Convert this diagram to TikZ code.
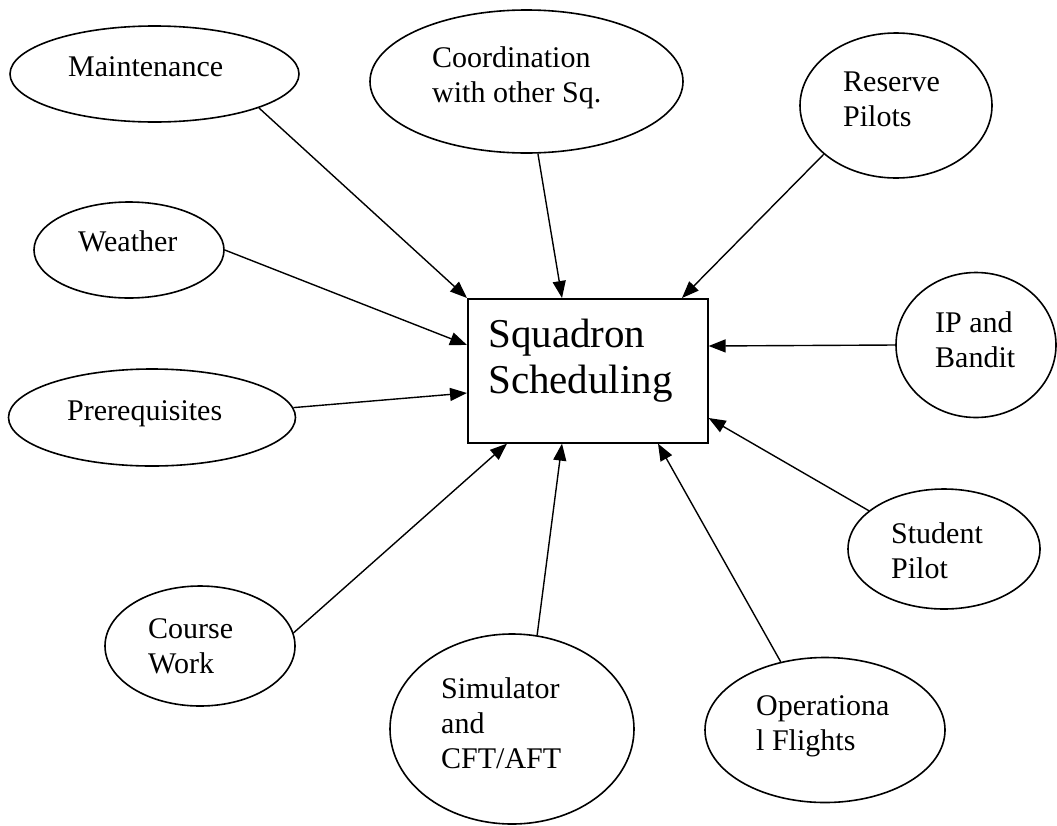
\documentclass[tikz,border=0pt]{standalone}
\usepackage{fontspec}
\setmainfont{Liberation Serif}
\usetikzlibrary{shapes.geometric,arrows.meta,calc}
\tikzset{
  ell/.style={ellipse, draw, line width=1.6pt, inner sep=0pt},
  lbl/.style={anchor=base west, inner sep=0pt, font=\fontsize{30}{35}\selectfont},
  mainbox/.style={draw, line width=1.6pt, inner sep=0pt, anchor=north west},
  conn/.style={line width=1.4pt, -{Triangle[length=17pt,width=13pt]}}
}
\newcommand{\twolines}[2]{\vtop{\hbox{#1}\hbox{#2}}}
\newcommand{\threelines}[3]{\vtop{\hbox{#1}\hbox{#2}\hbox{#3}}}
\begin{document}
\begin{tikzpicture}[x=1pt,y=-1pt]
\path[use as bounding box] (0,0) rectangle (1057,825);
% ellipses
\node[ell, minimum width=289pt, minimum height=96pt] (maint) at (154.5,74) {};
\node[ell, minimum width=313pt, minimum height=143pt] (coord) at (526.5,81.5) {};
\node[ell, minimum width=192pt, minimum height=145pt] (reserve) at (896,105.5) {};
\node[ell, minimum width=190pt, minimum height=96pt] (weather) at (129,250) {};
\node[ell, minimum width=287pt, minimum height=97pt] (prereq) at (152,417.5) {};
\node[ell, minimum width=160pt, minimum height=145pt] (ip) at (976,345) {};
\node[ell, minimum width=192pt, minimum height=120pt] (student) at (944,549) {};
\node[ell, minimum width=190pt, minimum height=120pt] (course) at (200,646) {};
\node[ell, minimum width=244pt, minimum height=190pt] (sim) at (512,729) {};
\node[ell, minimum width=240pt, minimum height=145pt] (oper) at (825,730) {};
% central box
\node[mainbox, minimum width=240pt, minimum height=144pt] (box) at (467,298) {};
% labels
\node[lbl] (tmaint) at (68,76) {Maintenance};
\node[lbl] (tcoord) at (432,67) {\twolines{Coordination}{with other Sq.}};
\node[lbl] (treserve) at (843,91) {\twolines{Reserve}{Pilots}};
\node[lbl] (tweather) at (78,251) {Weather};
\node[lbl] (tprereq) at (67,420) {Prerequisites};
\node[lbl] (tip) at (935,332) {\twolines{IP and}{Bandit}};
\node[lbl] (tstudent) at (891,543) {\twolines{Student}{Pilot}};
\node[lbl] (tcourse) at (148,638) {\twolines{Course}{Work}};
\node[lbl] (tsim) at (441,698) {\threelines{Simulator}{and}{CFT/AFT}};
\node[lbl] (toper) at (756,715) {\twolines{Operationa}{l Flights}};
\node[lbl, font=\fontsize{41}{46}\selectfont] (tbox) at (488,347) {\twolines{Squadron}{Scheduling}};
% connectors
\draw[conn] (maint.-18) -- (box.north west);
\draw[conn] (weather.east) -- ($(box.north west)+(0,47)$);
\draw[conn] (prereq.4) -- ($(box.north west)+(0,95)$);
\draw[conn] (coord.-81) -- ($(box.north west)+(95,0)$);
\draw[conn] (reserve.-146) -- ($(box.north west)+(215,0)$);
\draw[conn] (ip.west) -- ($(box.north east)+(0,48)$);
\draw[conn] (student.153) -- ($(box.north east)+(0,120)$);
\draw[conn] (oper.123) -- ($(box.south west)+(191,0)$);
\draw[conn] (sim.75) -- ($(box.south west)+(95,0)$);
\draw[conn] (course.8) -- ($(box.south west)+(40,0)$);
\end{tikzpicture}
\end{document}
